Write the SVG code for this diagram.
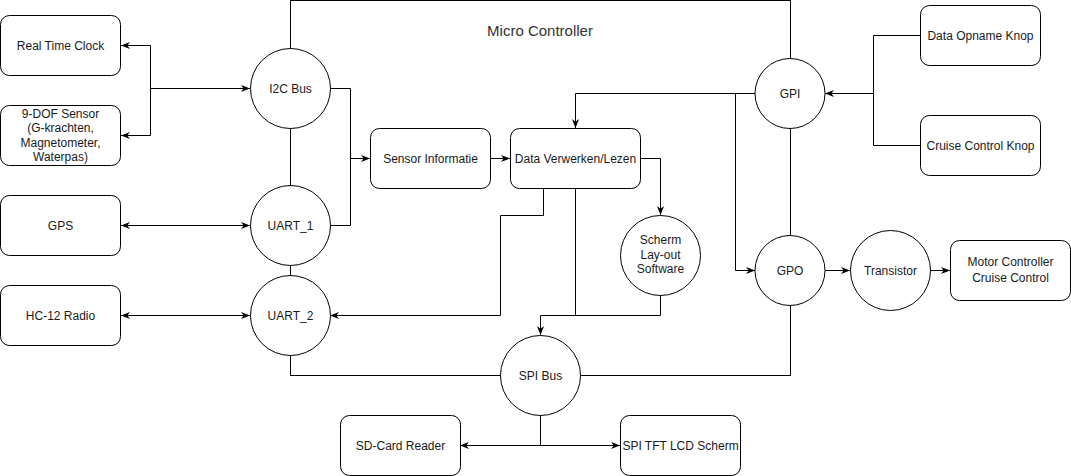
<svg xmlns="http://www.w3.org/2000/svg" width="1071" height="476" viewBox="0 0 1071 476">
<style>
.box{fill:#fff;stroke:#000;stroke-width:1}
.c{fill:#fff;stroke:#000;stroke-width:1}
.t{font-family:"Liberation Sans",Arial,sans-serif;font-size:12px;fill:#1a1a1a;text-anchor:middle}
.e{fill:none;stroke:#000;stroke-width:1}
.a{marker-end:url(#ar)}
.b{marker-start:url(#ar);marker-end:url(#ar)}
</style>
<defs>
<marker id="ar" viewBox="0 0 10 10" refX="10" refY="5" markerUnits="userSpaceOnUse" markerWidth="9" markerHeight="9" orient="auto-start-reverse">
<path d="M0,1 L10,5 L0,9 L3,5 z" fill="#000"/>
</marker>
</defs>
<rect width="1071" height="476" fill="#fff"/>
<g id="micro-controller">
<rect x="290.5" y="0.5" width="500" height="375" fill="none" stroke="#000"/>
<text x="540" y="36" class="t" style="font-size:15px;fill:#333">Micro Controller</text>
</g>
<g id="connectors">
<path class="e a" d="M150.5,88.5 L250,88.5"/>
<path class="e a" d="M150.5,88.5 L150.5,45.5 L121,45.5"/>
<path class="e a" d="M150.5,88.5 L150.5,135.5 L121,135.5"/>
<path class="e a" d="M330,88.5 L350.5,88.5 L350.5,158.5 L370,158.5"/>
<path class="e" d="M330,225.5 L350.5,225.5 L350.5,158.5"/>
<path class="e b" d="M121,225.5 L250,225.5"/>
<path class="e b" d="M121,315.5 L250,315.5"/>
<path class="e a" d="M490,158.5 L510,158.5"/>
<path class="e a" d="M543.5,188 L543.5,215.5 L500.5,215.5 L500.5,315.5 L330,315.5"/>
<path class="e a" d="M575.5,188 L575.5,315.5 L540.5,315.5 L540.5,335"/>
<path class="e" d="M660.5,295 L660.5,315.5 L575.5,315.5"/>
<path class="e a" d="M640,158.5 L660.5,158.5 L660.5,215"/>
<path class="e a" d="M755,93.5 L575.5,93.5 L575.5,128"/>
<path class="e a" d="M735.5,93.5 L735.5,270.5 L755,270.5"/>
<path class="e a" d="M920,35.5 L873.5,35.5 L873.5,93.5 L825,93.5"/>
<path class="e" d="M920,145.5 L873.5,145.5 L873.5,93.5"/>
<path class="e a" d="M825,270.5 L850,270.5"/>
<path class="e a" d="M930,270.5 L950,270.5"/>
<path class="e a" d="M540.5,415 L540.5,445.5 L460,445.5"/>
<path class="e a" d="M540.5,445.5 L620,445.5"/>
</g>
<g id="real-time-clock"><rect class="box" x="0.5" y="15.5" width="120" height="60" rx="9"/><text class="t" x="60.5" y="49.5">Real Time Clock</text></g>
<g id="dof-sensor"><rect class="box" x="0.5" y="105.5" width="120" height="60" rx="9"/><text class="t" x="60.5" y="118">9-DOF Sensor</text><text class="t" x="60.5" y="132">(G-krachten,</text><text class="t" x="60.5" y="147">Magnetometer,</text><text class="t" x="60.5" y="161">Waterpas)</text></g>
<g id="gps"><rect class="box" x="0.5" y="195.5" width="120" height="60" rx="9"/><text class="t" x="60.5" y="229.5">GPS</text></g>
<g id="hc12"><rect class="box" x="0.5" y="285.5" width="120" height="60" rx="9"/><text class="t" x="60.5" y="319.5">HC-12 Radio</text></g>
<g id="i2c"><circle class="c" cx="290.5" cy="88.5" r="40"/><text class="t" x="290.5" y="92.5">I2C Bus</text></g>
<g id="uart1"><circle class="c" cx="290.5" cy="225.5" r="40"/><text class="t" x="290.5" y="229.5">UART_1</text></g>
<g id="uart2"><circle class="c" cx="290.5" cy="315.5" r="40"/><text class="t" x="290.5" y="319.5">UART_2</text></g>
<g id="sensor-informatie"><rect class="box" x="370.5" y="128.5" width="120" height="60" rx="9"/><text class="t" x="430.5" y="162.5">Sensor Informatie</text></g>
<g id="data-verwerken"><rect class="box" x="510.5" y="128.5" width="130" height="60" rx="9"/><text class="t" x="575.5" y="162.5">Data Verwerken/Lezen</text></g>
<g id="scherm-software"><circle class="c" cx="660.5" cy="255.5" r="40"/><text class="t" x="660.5" y="244">Scherm</text><text class="t" x="660.5" y="259">Lay-out</text><text class="t" x="660.5" y="273">Software</text></g>
<g id="spi-bus"><circle class="c" cx="540.5" cy="375.5" r="40"/><text class="t" x="540.5" y="379.5">SPI Bus</text></g>
<g id="sd-card"><rect class="box" x="340.5" y="415.5" width="120" height="60" rx="9"/><text class="t" x="400.5" y="449.5">SD-Card Reader</text></g>
<g id="spi-tft"><rect class="box" x="620.5" y="415.5" width="120" height="60" rx="9"/><text class="t" x="680.5" y="449.5">SPI TFT LCD Scherm</text></g>
<g id="gpi"><circle class="c" cx="790" cy="93.5" r="35"/><text class="t" x="790" y="97.5">GPI</text></g>
<g id="gpo"><circle class="c" cx="790" cy="270.5" r="35"/><text class="t" x="790" y="274.5">GPO</text></g>
<g id="transistor"><circle class="c" cx="890.5" cy="270.5" r="40"/><text class="t" x="890.5" y="274.5">Transistor</text></g>
<g id="motor-controller"><rect class="box" x="950.5" y="240.5" width="120" height="60" rx="9"/><text class="t" x="1010.5" y="266">Motor Controller</text><text class="t" x="1010.5" y="282">Cruise Control</text></g>
<g id="data-opname-knop"><rect class="box" x="920.5" y="5.5" width="120" height="60" rx="9"/><text class="t" x="980.5" y="39.5">Data Opname Knop</text></g>
<g id="cruise-control-knop"><rect class="box" x="920.5" y="115.5" width="120" height="60" rx="9"/><text class="t" x="980.5" y="149.5">Cruise Control Knop</text></g>
</svg>
